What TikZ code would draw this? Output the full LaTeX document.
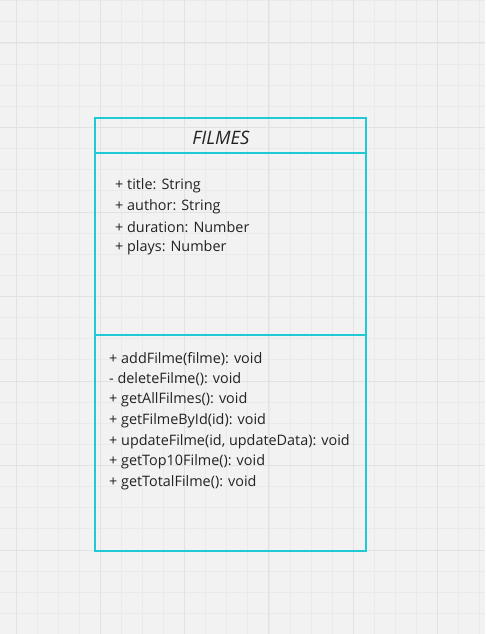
\documentclass[tikz,border=0pt]{standalone}
\usepackage{fontspec}
\setmainfont{Open Sans}
\definecolor{bgc}{HTML}{F2F2F2}
\definecolor{minorc}{HTML}{EAEAEA}
\definecolor{majorc}{HTML}{E2E2E2}
\definecolor{umlc}{HTML}{1ECAD3}
\definecolor{txtc}{HTML}{222222}
\tikzset{
  umlbox/.style={draw=umlc, line width=2pt},
  member/.style={anchor=west, inner sep=0pt, font=\fontsize{14.4}{16}\selectfont, text=txtc},
  titlestyle/.style={inner sep=0pt, font=\fontsize{18.5}{20}\selectfont\itshape, text=txtc}
}
\begin{document}
\begin{tikzpicture}[x=1pt,y=-1pt]
\useasboundingbox (0,0) rectangle (485,634);
\fill[bgc] (0,0) rectangle (485,634);
% minor grid
\foreach \i in {-3,...,26} {
  \draw[minorc, line width=0.8pt] ({16+21.08*\i},0) -- ({16+21.08*\i},634);
}
\foreach \i in {-3,...,31} {
  \draw[minorc, line width=0.8pt] (0,{43+21.125*\i}) -- (485,{43+21.125*\i});
}
% major grid
\foreach \i in {0,...,5} {
  \draw[majorc, line width=1pt] ({16+84.3*\i},0) -- ({16+84.3*\i},634);
}
\foreach \i in {-1,...,7} {
  \draw[majorc, line width=1pt] (0,{43+84.5*\i}) -- (485,{43+84.5*\i});
}
% UML box
\coordinate (tl) at (95,118);
\coordinate (br) at (366,551);
\draw[umlbox] (tl) rectangle (br);
\draw[umlbox] (95,153) -- (366,153);
\draw[umlbox] (95,335) -- (366,335);
\node[titlestyle] (title) at (221,137.5) {FILMES};
\node[member] (a1) at (115,186) {+ title: String};
\node[member] (a2) at (115,206.5) {+ author: String};
\node[member] (a3) at (115,227.5) {+ duration: Number};
\node[member] (a4) at (115,248) {+ plays: Number};
\node[member] (m1) at (109,359) {+ addFilme(filme): void};
\node[member] (m2) at (109,379.5) {- deleteFilme(): void};
\node[member] (m3) at (109,400) {+ getAllFilmes(): void};
\node[member] (m4) at (109,420.5) {+ getFilmeById(id): void};
\node[member] (m5) at (109,441.5) {+ updateFilme(id, updateData): void};
\node[member] (m6) at (109,462) {+ getTop10Filme(): void};
\node[member] (m7) at (109,483) {+ getTotalFilme(): void};
\end{tikzpicture}
\end{document}
